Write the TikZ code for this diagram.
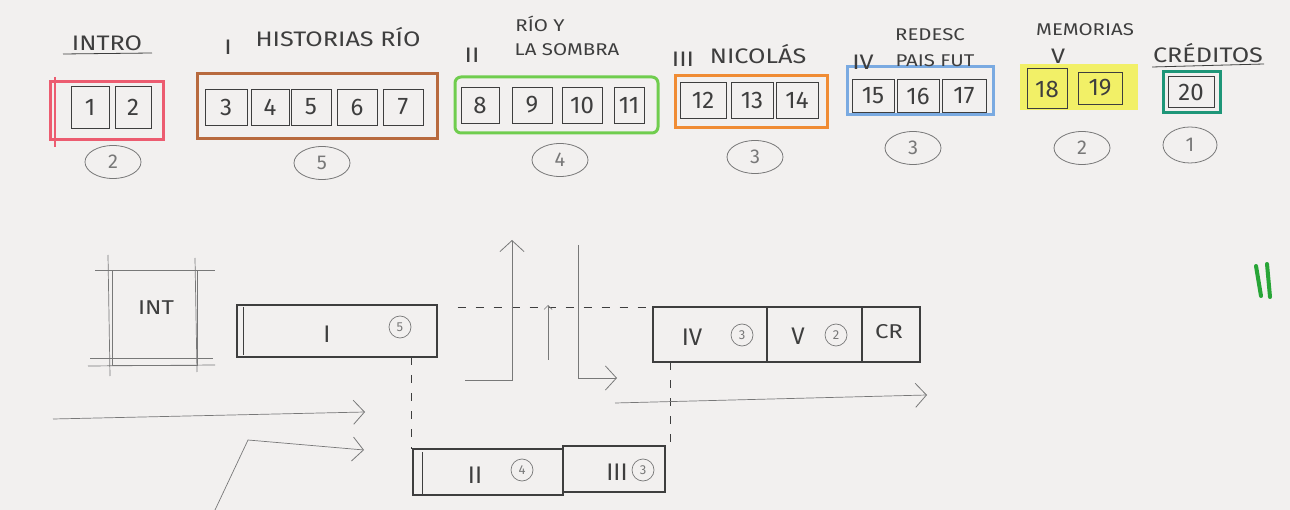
\documentclass[tikz,border=0pt]{standalone}
\usepackage{fontspec}
\setmainfont{Fira Sans}
\newfontfamily\widehand[FakeStretch=1.2]{Fira Sans}
\usetikzlibrary{arrows.meta,shapes.geometric}
\definecolor{paper}{RGB}{242,240,239}
\definecolor{pencil}{RGB}{62,62,62}
\definecolor{faint}{RGB}{120,120,120}
\definecolor{cpink}{RGB}{236,92,112}
\definecolor{cbrown}{RGB}{184,106,62}
\definecolor{cgreen}{RGB}{112,205,78}
\definecolor{corange}{RGB}{240,140,52}
\definecolor{cblue}{RGB}{122,170,225}
\definecolor{cyellow}{RGB}{242,240,70}
\definecolor{cteal}{RGB}{30,150,120}
\definecolor{cmark}{RGB}{40,165,55}
\begin{document}
\begin{tikzpicture}[x=1pt,y=-1pt,
  slide/.style={draw=pencil, line width=0.7pt, minimum height=36pt, inner sep=0pt,
    font=\fontsize{24}{24}\selectfont, text=pencil},
  group/.style={draw=#1, line width=3pt, inner sep=0pt},
  count/.style={ellipse, draw=faint, line width=0.8pt, minimum width=56pt, minimum height=33pt,
    inner sep=0pt, font=\fontsize{20}{20}\selectfont, text=faint},
  lab/.style={inner sep=0pt, font=\widehand\fontsize{21}{21}\selectfont, text=pencil},
  labs/.style={inner sep=0pt, font=\widehand\fontsize{17}{17}\selectfont, text=pencil},
  sec/.style={draw=pencil, line width=1.1pt, inner sep=0pt},
  big/.style={inner sep=0pt, font=\fontsize{24}{24}\selectfont, text=pencil},
  small/.style={circle, draw=faint, line width=0.7pt, minimum size=22pt, inner sep=0pt,
    font=\fontsize{13}{13}\selectfont, text=faint},
  sketch/.style={draw=faint, line width=0.7pt},
  guide/.style={draw=pencil, line width=0.8pt, dash pattern=on 8pt off 10pt},
  arr/.style={sketch, -{Straight Barb[length=11pt,width=24pt,line width=0.8pt]}}
]
\useasboundingbox (0,0) rectangle (1290,510);
\fill[paper] (0,0) rectangle (1290,510);

% ---------- top row: groups ----------
\node[group=cpink, minimum width=113pt, minimum height=58pt] (gA) at (106.5,111) {};
\node[group=cbrown, minimum width=240pt, minimum height=65pt] (gB) at (317,106) {};
\node[group=cgreen, minimum width=203pt, minimum height=56pt, rounded corners=6pt] (gC) at (556.5,105) {};
\node[group=corange, minimum width=152pt, minimum height=52pt] (gD) at (751,102) {};
\node[group=cblue, minimum width=146pt, minimum height=48pt] (gE) at (920,91) {};
\node[fill=cyellow, fill opacity=0.8, inner sep=0pt, minimum width=118pt, minimum height=46pt] (gF) at (1079,87) {};
\node[group=cteal, minimum width=57pt, minimum height=41pt] (gG) at (1191.5,92.5) {};
\draw[cpink, line width=2pt] (55,77) -- (55,147);

% ---------- top row: slides ----------
\node[slide, minimum width=38pt, minimum height=42pt] (s1) at (90,107) {1};
\node[slide, minimum width=36pt, minimum height=42pt] (s2) at (133,107) {2};
\node[slide, minimum width=42pt] (s3) at (226,107) {3};
\node[slide, minimum width=38pt] (s4) at (270,107) {4};
\node[slide, minimum width=40pt] (s5) at (311,107) {5};
\node[slide, minimum width=40pt] (s6) at (357,107) {6};
\node[slide, minimum width=40pt] (s7) at (403,107) {7};
\node[slide, minimum width=38pt] (s8) at (480,105) {8};
\node[slide, minimum width=40pt] (s9) at (532,105) {9};
\node[slide, minimum width=40pt] (s10) at (582,105) {10};
\node[slide, minimum width=30pt] (s11) at (629,105) {11};
\node[slide, minimum width=46pt] (s12) at (703,100) {12};
\node[slide, minimum width=42pt] (s13) at (752,100) {13};
\node[slide, minimum width=42pt] (s14) at (797,100) {14};
\node[slide, minimum width=42pt, minimum height=33pt] (s15) at (873,96) {15};
\node[slide, minimum width=42pt, minimum height=33pt] (s16) at (918,96) {16};
\node[slide, minimum width=44pt, minimum height=33pt] (s17) at (964,96) {17};
\node[slide, minimum width=40pt, minimum height=40pt, line width=1pt] (s18) at (1047,89) {18};
\node[slide, minimum width=44pt, minimum height=32pt] (s19) at (1100,88) {19};
\node[slide, minimum width=46pt, minimum height=31pt] (s20) at (1191,92) {20};

% ---------- top row: counts ----------
\node[count] (c1) at (113,162) {2};
\node[count] (c2) at (322,163) {5};
\node[count] (c3) at (560,160) {4};
\node[count] (c4) at (755,157) {3};
\node[count] (c5) at (913,148) {3};
\node[count] (c6) at (1082,148) {2};
\node[count, minimum width=54pt, minimum height=36pt] (c7) at (1190,145) {1};

% ---------- top row: titles ----------
\node[lab] (tA) at (107,43) {INTRO};
\draw[pencil, line width=0.8pt] (63,54) -- (152,53);
\node[lab] (tB1) at (228,47) {I};
\node[lab] (tB2) at (338,37) {HISTORIAS RÍO};
\node[labs] (tC0) at (540,24) {RÍO Y};
\node[lab] (tC1) at (472,55) {II};
\node[labs] (tC2) at (567,50) {LA SOMBRA};
\node[lab] (tD1) at (683,59) {III};
\node[lab] (tD2) at (758,54) {NICOLÁS};
\node[labs] (tE0) at (930,35) {REDESC};
\node[lab] (tE1) at (863,62) {IV};
\node[labs] (tE2) at (935,61) {PAIS FUT};
\node[labs] (tF0) at (1085,30) {MEMORIAS};
\node[lab] (tF1) at (1058,56) {V};
\node[lab] (tG) at (1208,53) {CRÉDITOS};
\draw[pencil, line width=0.8pt] (1152,67) -- (1264,64);

% ---------- bottom: intro box ----------
\node[sketch, minimum width=85pt, minimum height=95pt, inner sep=0pt] (bInt) at (154.5,317.5) {};
\node[big, font=\widehand\fontsize{20}{20}\selectfont] (tInt) at (156,308) {INT};
\draw[sketch] (95,270) -- (215,270);
\draw[sketch] (90,358) -- (213,358);
\draw[sketch] (88,366) -- (215,365);
\draw[sketch] (108,255) -- (110,376);
\draw[sketch] (195,258) -- (197,372);

% ---------- bottom: section I ----------
\node[sec, minimum width=200pt, minimum height=52pt] (bI) at (337,331) {};
\draw[pencil, line width=0.7pt] (243,307) -- (243,355);
\node[big] (tI) at (327,334) {I};
\node[small] (kI) at (400,327) {5};

% ---------- bottom: sections IV, V, CR ----------
\node[sec, minimum width=114pt, minimum height=55pt] (bIV) at (710,334.5) {};
\node[sec, minimum width=95pt, minimum height=55pt] (bV) at (814.5,334.5) {};
\node[sec, minimum width=58pt, minimum height=55pt] (bCR) at (891,334.5) {};
\node[big] (tIV) at (692,337) {IV};
\node[small] (kIV) at (742,335) {3};
\node[big] (tV) at (798,336) {V};
\node[small] (kV) at (836,335) {2};
\node[big, font=\widehand\fontsize{20}{20}\selectfont] (tCR) at (889,332) {CR};

% ---------- bottom: sections II, III ----------
\node[sec, minimum width=150pt, minimum height=46pt] (bII) at (488,472) {};
\node[sec, minimum width=102pt, minimum height=46pt] (bIII) at (614,469) {};
\draw[pencil, line width=0.7pt] (422,452) -- (422,495);
\node[big] (tII) at (475,475) {II};
\node[small] (kII) at (522,470) {4};
\node[big] (tIII) at (617,472) {III};
\node[small] (kIII) at (643,470) {3};

% ---------- guides ----------
\draw[guide] (bI.east |- 0,307) ++(20,0) -- (bIV.west |- 0,307);
\draw[guide] (411,357) -- (411,449);
\draw[guide] (670,362) -- (670,446);

% ---------- arrows ----------
\coordinate (u1a) at (465,380);
\coordinate (u1b) at (512,380);
\coordinate (u1c) at (512,240);
\draw[arr] (u1a) -- (u1b) -- (u1c);
\coordinate (u2a) at (548,360);
\coordinate (u2b) at (548,305);
\draw[sketch, -{Straight Barb[length=4pt,width=8pt]}] (u2a) -- (u2b);
\coordinate (u3a) at (578,245);
\coordinate (u3b) at (578,378);
\coordinate (u3c) at (617,378);
\draw[arr] (u3a) -- (u3b) -- (u3c);
\coordinate (h1a) at (615,403);
\coordinate (h1b) at (927,395);
\draw[arr] (h1a) -- (h1b);
\coordinate (h2a) at (53,419);
\coordinate (h2b) at (365,412);
\draw[arr] (h2a) -- (h2b);
\coordinate (h3a) at (215,510);
\coordinate (h3b) at (248,440);
\coordinate (h3c) at (364,450);
\draw[arr] (h3a) -- (h3b) -- (h3c);

% ---------- green mark ----------
\draw[cmark, line width=4pt, line cap=round] (1256,266) -- (1261,296);
\draw[cmark, line width=4pt, line cap=round] (1267,264) -- (1270,297);
\end{tikzpicture}
\end{document}
